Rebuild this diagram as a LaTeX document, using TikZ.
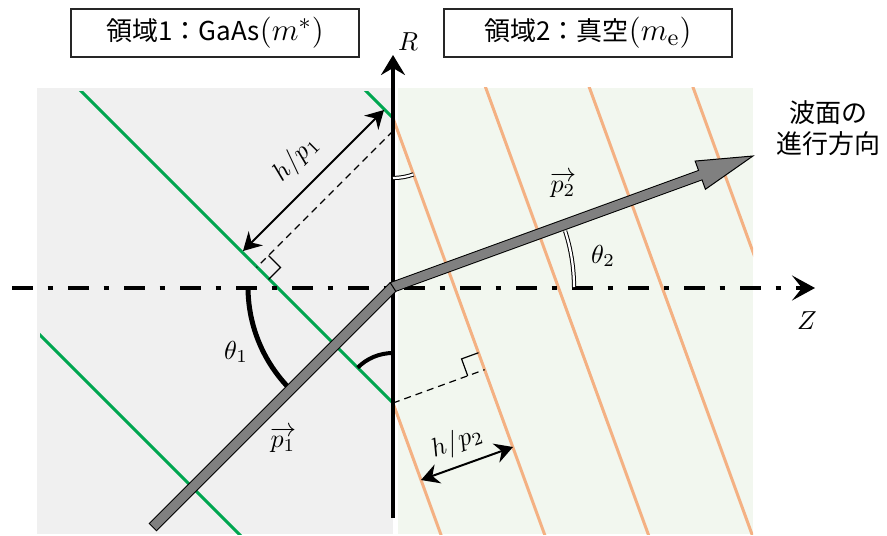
\documentclass[tikz,border=0pt]{standalone}
\usepackage{fontspec}
\usepackage{amsmath}
\usepackage{graphicx}
\newfontfamily\jpfont{Noto Sans CJK JP}
\usetikzlibrary{arrows.meta}
\definecolor{fundocinza}{RGB}{240,240,240}
\definecolor{fundoverde}{RGB}{242,247,239}
\definecolor{verdeonda}{RGB}{0,166,80}
\definecolor{laranjaonda}{RGB}{244,177,131}
\definecolor{cinzabarra}{RGB}{128,128,128}
\newcommand{\mat}[1]{\scalebox{1.3}{$#1$}}
\tikzset{
  caixa/.style={rectangle,draw=black!85,line width=1.4pt,minimum width=144pt,
    minimum height=24pt,inner sep=0pt,font=\jpfont\fontsize{13}{15}\selectfont},
  frenteverde/.style={verdeonda,line width=1.5pt},
  frentelaranja/.style={laranjaonda,line width=1.5pt},
  eixor/.style={-{Stealth[length=10pt,width=12pt,inset=3.5pt]},line width=1.6pt},
  eixoz/.style={-{Stealth[length=11.5pt,width=12.5pt,inset=5pt]},line width=2.2pt,
    dash pattern=on 10.3pt off 7.5pt on 2.7pt off 7.5pt},
  seta/.style={{Stealth[length=9pt,width=10pt,inset=3pt]}-{Stealth[length=9pt,width=10pt,inset=3pt]},
    line width=1pt},
  tracejada/.style={dash pattern=on 3.5pt off 2.5pt,line width=0.6pt},
  barra/.style={line width=5.5pt,line join=miter},
  duplo/.style={double,double distance=1.1pt,line width=0.5pt}
}

\begin{document}
\begin{tikzpicture}[x=0.5pt,y=-0.5pt,
  rotulo/.style={inner sep=0pt,font=\fontsize{10}{12}\selectfont}]
\useasboundingbox (0,0) rectangle (887,535);
\fill[fundocinza] (37,88) rectangle (393,534);
\fill[fundoverde] (398,88) rectangle (753,534);
\coordinate (k) at (393,287);
\coordinate (a1) at (393,118);
\coordinate (a2) at (393,403);
\begin{scope}
\clip (40,92) rectangle (393,534);
\foreach \n in {0,1,2}
  \draw[frenteverde] (393,{118+285*\n}) ++(225:600) -- ++(45:1200);
\end{scope}
\begin{scope}
\clip (393,88) rectangle (753,534);
\foreach \n in {-3,...,1}
  \draw[frentelaranja] (393,{118+285*\n}) ++(250:1200) -- ++(70:3000);
\end{scope}
\draw[eixoz] (12,288) -- (815,288);
\draw[eixor] (393,518) -- (393,55);
\node[rotulo] (r) at (408,42) {\mat{R}};
\node[rotulo] (z) at (807,321) {\mat{Z}};

\coordinate (pe1) at (256.5,267.5);
\draw[tracejada] (393,131) -- (pe1);
\draw[line width=0.6pt] (pe1) ++(45:17) -- ++(-45:17) -- ++(225:17);
\path (a2) ++(-20:97.5) coordinate (pe2);
\draw[tracejada] (a2) -- (pe2);
\draw[line width=0.6pt] (pe2) ++(250:18) -- ++(160:18) -- ++(70:18);

\coordinate (h1a) at (384,110);
\coordinate (h1b) at (243,251);
\draw[seta] (h1a) -- (h1b);
\node[rotulo,rotate=45] at (296,159) {\mat{h/p_1}};
\coordinate (h2a) at (421,480);
\coordinate (h2b) at (513,447);
\draw[seta] (h2a) -- (h2b);
\node[rotulo,rotate=20] at (457,442) {\mat{h/p_2}};

\draw[line width=2.5pt] (k) ++(180:145) arc[start angle=180,end angle=137,radius=145];
\draw[line width=2pt] (a2) ++(225:50) arc[start angle=225,end angle=270,radius=50];
\draw[duplo] (a1) ++(90:60) arc[start angle=90,end angle=70,radius=60];
\draw[duplo] (k) ++(0:181) arc[start angle=0,end angle=-18,radius=181];

\path (k) ++(135:340) coordinate (s1)
  (k) ++(-20:327) coordinate (hb)
  (k) ++(-20:335) coordinate (hb2)
  (k) ++(-20:383) coordinate (ponta)
  (hb) ++(70:15) coordinate (c1)
  (hb) ++(250:15) coordinate (c2);
\draw[barra] (s1) -- (k) -- (hb);
\filldraw[fill=cinzabarra,line width=0.5pt,line join=miter] (c1) -- (ponta) -- (c2) -- cycle;
\draw[barra,cinzabarra,line width=4.5pt,shorten <=0.5pt] (s1) -- (k) -- (hb2);
\draw[line width=0.5pt] (k) ++(57.5:5.6) -- ++(237.5:11.2);

\node[rotulo] (t1) at (236,352) {\mat{\theta_1}};
\node[rotulo] (t2) at (603,256) {\mat{\theta_2}};
\node[rotulo] (p1) at (283,440) {\mat{\overrightarrow{p_1}}};
\node[rotulo] (p2) at (563,185) {\mat{\overrightarrow{p_2}}};
\node[inner sep=0pt,font=\jpfont\fontsize{13}{15.5}\selectfont,align=center] (onda) at (828,128) {波面の\\進行方向};

\node[caixa] (regiao1) at (215,33) {領域1：GaAs\mat{(m^*)}};
\node[caixa] (regiao2) at (588,33) {領域2：真空\mat{(m_{\mathrm{e}})}};
\end{tikzpicture}
\end{document}
